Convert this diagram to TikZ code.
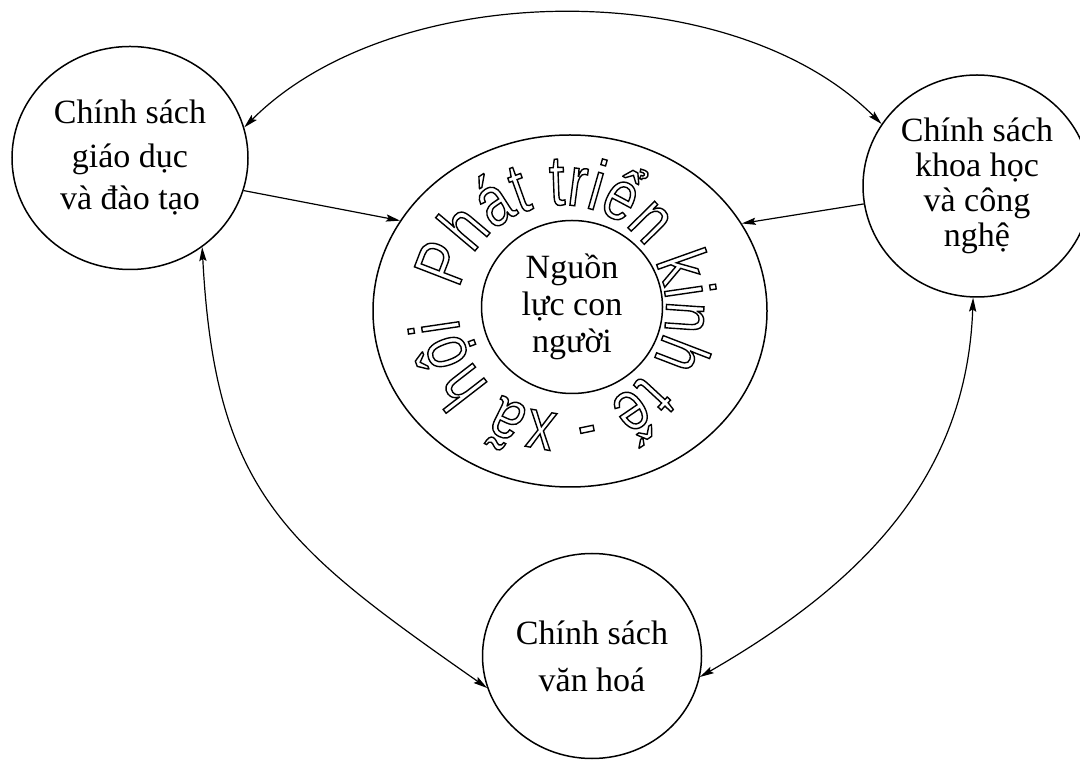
\documentclass[tikz,border=0pt]{standalone}
\usepackage{fontspec}
\setmainfont{Liberation Serif}
\newfontfamily\ringfont[FakeStretch=0.78]{Liberation Sans}
\usetikzlibrary{shapes.geometric,arrows.meta,decorations.text}
\newcommand\strokeon{\special{pdf:literal direct 1 Tr}}
\newcommand\strokeoff{\special{pdf:literal direct 0 Tr}}
\begin{document}
\begin{tikzpicture}[x=0.5pt, y=0.5pt,
  policy/.style={draw, ellipse, line width=0.75pt, inner sep=0pt, align=center},
  link/.style={line width=0.6pt, {Stealth[length=7pt, width=3.6pt, inset=1.2pt]}-{Stealth[length=7pt, width=3.6pt, inset=1.2pt]}},
  feed/.style={line width=0.6pt, -{Stealth[length=7pt, width=3.6pt, inset=1.2pt]}}]
\useasboundingbox (0,0) rectangle (1080,760);
\node[policy, minimum width=118pt, minimum height=111.5pt, font=\fontsize{17}{21.5}\selectfont]
  (edu) at (130,602) {Chính sách\\giáo dục\\và đào tạo};
\node[policy, minimum width=114pt, minimum height=111pt, font=\fontsize{17}{17.5}\selectfont]
  (sci) at (977,574) {Chính sách\\khoa học\\và công\\nghệ};
\node[policy, minimum width=109.5pt, minimum height=102.5pt, font=\fontsize{17}{23.5}\selectfont]
  (cult) at (592,104) {Chính sách\\văn hoá};
\node[policy, minimum width=197pt, minimum height=176pt] (dev) at (570,449) {};
\node[policy, minimum width=90.5pt, minimum height=86.5pt, font=\fontsize{17}{18.5}\selectfont]
  (human) at (572,453) {Nguồn\\lực con\\người};
% chu vien quanh vong tron
\begin{scope}[line width=0.7pt]
\strokeon
\path[decorate, decoration={text along path, text align=fit to path,
    text={|\ringfont\fontsize{35.5}{35.5}\selectfont|Phát triển kinh tế - xã hội}}]
  (562,451) ++(169:104) arc[start angle=169, end angle=-175, radius=104];
\strokeoff
\end{scope}
\draw[link] (edu.15) to[out=45, in=135, looseness=0.85] (sci.147);
\draw[feed] (edu.-16) -- (dev.152);
\draw[feed] (sci.189) -- (dev.27);
\draw[link] (edu.-51) to[out=-87, in=145, looseness=1.2] (cult.197);
\draw[link] (sci.-92) to[out=-92, in=30] (cult.-11);
\end{tikzpicture}
\end{document}
